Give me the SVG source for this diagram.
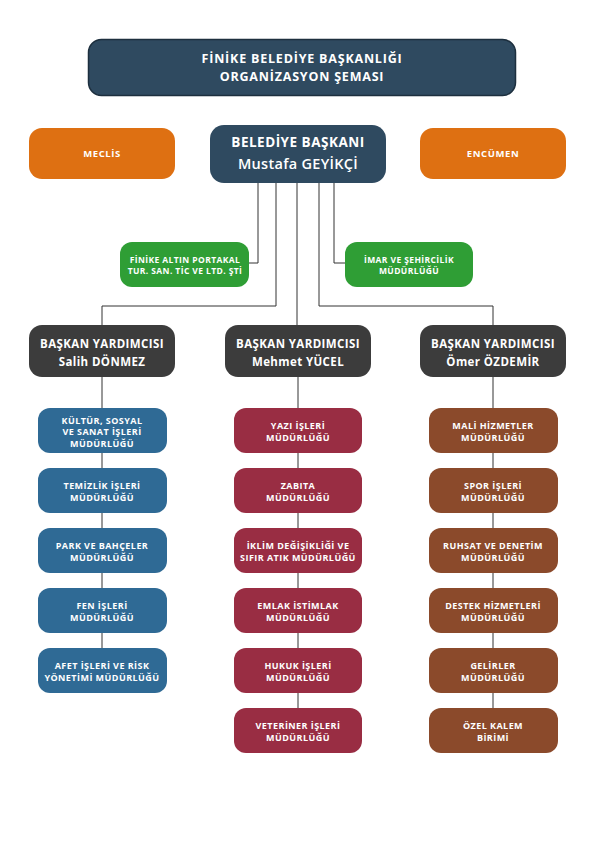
<svg xmlns="http://www.w3.org/2000/svg" width="596" height="842" viewBox="0 0 596 842">
<style>
text{font-family:"Open Sans","Liberation Sans",sans-serif;fill:#fff;text-anchor:middle;dominant-baseline:central;font-weight:700}
.t{font-size:12.5px;letter-spacing:0.8px}
.m{font-size:13.5px;letter-spacing:0.5px}
.mn{font-size:14.5px;font-weight:600;letter-spacing:0.3px}
.vp{font-size:11.5px;letter-spacing:0.4px}
.s{font-size:9px;letter-spacing:0.45px}
.o{font-size:9.5px;letter-spacing:0.6px}
.g{font-size:8.5px;letter-spacing:0.4px}
.navy{fill:#2f4a60}
.org{fill:#de7012}
.grn{fill:#2f9e35}
.gry{fill:#3c3c3c}
.blu{fill:#2f6a95}
.red{fill:#992d43}
.brn{fill:#8b4a2b}
.c{fill:none;stroke:#333;stroke-width:1}
</style>
<rect width="596" height="842" fill="#fff"/>
<g id="connectors">
<path class="c" d="M258 183V263H249M334 183V263H345M276 183V306H102V325M297 183V325M319 183V306H493V325"/>
<path class="c" d="M102 377V648M298 377V708M493 377V708"/>
</g>
<g id="title"><rect x="88.5" y="39.5" width="427" height="56" rx="13" class="navy" stroke="#1d2f3e" stroke-width="1.5"/><text class="t" x="302" y="58">FİNİKE BELEDİYE BAŞKANLIĞI</text><text class="t" x="302" y="76">ORGANİZASYON ŞEMASI</text></g>
<g id="meclis"><rect x="29" y="128" width="146" height="51" rx="13" class="org"/><text class="o" x="102" y="153">MECLİS</text></g>
<g id="baskan"><rect x="210" y="125" width="176" height="58" rx="14" class="navy"/><text class="m" x="298" y="142">BELEDİYE BAŞKANI</text><text class="mn" x="298" y="163">Mustafa GEYİKÇİ</text></g>
<g id="encumen"><rect x="420" y="128" width="146" height="51" rx="13" class="org"/><text class="o" x="493" y="153">ENCÜMEN</text></g>
<g id="altinportakal"><rect x="120" y="242" width="129" height="45" rx="12" class="grn"/><text class="g" x="185" y="259">FİNİKE ALTIN PORTAKAL</text><text class="g" x="185" y="270">TUR. SAN. TİC VE LTD. ŞTİ</text></g>
<g id="imar"><rect x="345" y="242" width="128" height="45" rx="12" class="grn"/><text class="g" x="409" y="259">İMAR VE ŞEHİRCİLİK</text><text class="g" x="409" y="270">MÜDÜRLÜĞÜ</text></g>
<g id="vp1"><rect x="29" y="325" width="146" height="52" rx="13" class="gry"/><text class="vp" x="102" y="343">BAŞKAN YARDIMCISI</text><text class="vp" x="102" y="361">Salih DÖNMEZ</text></g>
<g id="vp2"><rect x="225" y="325" width="146" height="52" rx="13" class="gry"/><text class="vp" x="298" y="343">BAŞKAN YARDIMCISI</text><text class="vp" x="298" y="361">Mehmet YÜCEL</text></g>
<g id="vp3"><rect x="420" y="325" width="146" height="52" rx="13" class="gry"/><text class="vp" x="493" y="343">BAŞKAN YARDIMCISI</text><text class="vp" x="493" y="361">Ömer ÖZDEMİR</text></g>
<g id="kultur"><rect x="38" y="408" width="129" height="45" rx="12" class="blu"/><text class="s" x="102" y="420">KÜLTÜR, SOSYAL</text><text class="s" x="102" y="431.5">VE SANAT İŞLERİ</text><text class="s" x="102" y="443">MÜDÜRLÜĞÜ</text></g>
<g id="temizlik"><rect x="38" y="468" width="129" height="45" rx="12" class="blu"/><text class="s" x="102" y="485">TEMİZLİK İŞLERİ</text><text class="s" x="102" y="497">MÜDÜRLÜĞÜ</text></g>
<g id="park"><rect x="38" y="528" width="129" height="45" rx="12" class="blu"/><text class="s" x="102" y="545">PARK VE BAHÇELER</text><text class="s" x="102" y="557">MÜDÜRLÜĞÜ</text></g>
<g id="fen"><rect x="38" y="588" width="129" height="45" rx="12" class="blu"/><text class="s" x="102" y="605">FEN İŞLERİ</text><text class="s" x="102" y="617">MÜDÜRLÜĞÜ</text></g>
<g id="afet"><rect x="38" y="648" width="129" height="45" rx="12" class="blu"/><text class="s" x="102" y="665">AFET İŞLERİ VE RİSK</text><text class="s" x="102" y="677">YÖNETİMİ MÜDÜRLÜĞÜ</text></g>
<g id="yazi"><rect x="234" y="408" width="128" height="45" rx="12" class="red"/><text class="s" x="298" y="425">YAZI İŞLERİ</text><text class="s" x="298" y="437">MÜDÜRLÜĞÜ</text></g>
<g id="zabita"><rect x="234" y="468" width="128" height="45" rx="12" class="red"/><text class="s" x="298" y="485">ZABITA</text><text class="s" x="298" y="497">MÜDÜRLÜĞÜ</text></g>
<g id="iklim"><rect x="234" y="528" width="128" height="45" rx="12" class="red"/><text class="s" x="298" y="545">İKLİM DEĞİŞİKLİĞİ VE</text><text class="s" x="298" y="557">SIFIR ATIK MÜDÜRLÜĞÜ</text></g>
<g id="emlak"><rect x="234" y="588" width="128" height="45" rx="12" class="red"/><text class="s" x="298" y="605">EMLAK İSTİMLAK</text><text class="s" x="298" y="617">MÜDÜRLÜĞÜ</text></g>
<g id="hukuk"><rect x="234" y="648" width="128" height="45" rx="12" class="red"/><text class="s" x="298" y="665">HUKUK İŞLERİ</text><text class="s" x="298" y="677">MÜDÜRLÜĞÜ</text></g>
<g id="veteriner"><rect x="234" y="708" width="128" height="45" rx="12" class="red"/><text class="s" x="298" y="725">VETERİNER İŞLERİ</text><text class="s" x="298" y="737">MÜDÜRLÜĞÜ</text></g>
<g id="mali"><rect x="429" y="408" width="129" height="45" rx="12" class="brn"/><text class="s" x="493" y="425">MALİ HİZMETLER</text><text class="s" x="493" y="437">MÜDÜRLÜĞÜ</text></g>
<g id="spor"><rect x="429" y="468" width="129" height="45" rx="12" class="brn"/><text class="s" x="493" y="485">SPOR İŞLERİ</text><text class="s" x="493" y="497">MÜDÜRLÜĞÜ</text></g>
<g id="ruhsat"><rect x="429" y="528" width="129" height="45" rx="12" class="brn"/><text class="s" x="493" y="545">RUHSAT VE DENETİM</text><text class="s" x="493" y="557">MÜDÜRLÜĞÜ</text></g>
<g id="destek"><rect x="429" y="588" width="129" height="45" rx="12" class="brn"/><text class="s" x="493" y="605">DESTEK HİZMETLERİ</text><text class="s" x="493" y="617">MÜDÜRLÜĞÜ</text></g>
<g id="gelirler"><rect x="429" y="648" width="129" height="45" rx="12" class="brn"/><text class="s" x="493" y="665">GELİRLER</text><text class="s" x="493" y="677">MÜDÜRLÜĞÜ</text></g>
<g id="ozelkalem"><rect x="429" y="708" width="129" height="45" rx="12" class="brn"/><text class="s" x="493" y="725">ÖZEL KALEM</text><text class="s" x="493" y="737">BİRİMİ</text></g>
</svg>
